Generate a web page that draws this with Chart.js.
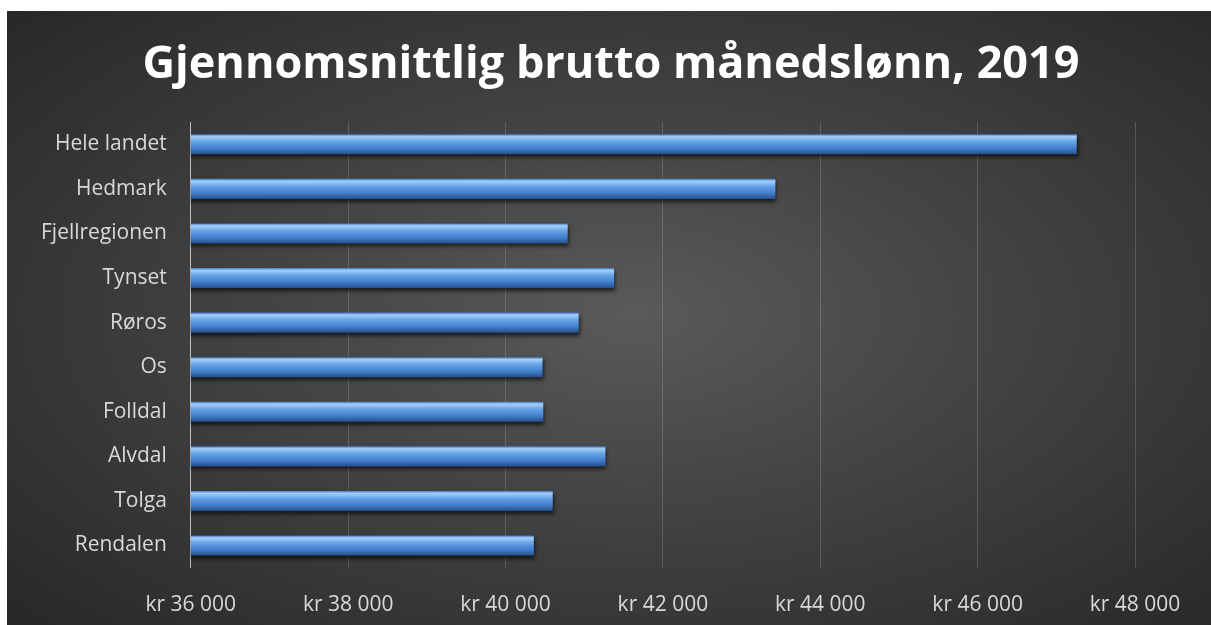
<!DOCTYPE html>
<html lang="no">
<head>
    <meta charset="UTF-8">
    <title>Gjennomsnittlig brutto månedslønn, 2019</title>
    <style>
        body {
            margin: 0;
            background: #ffffff;
            overflow: hidden;
        }
        .panel {
            position: absolute;
            left: 7px;
            top: 11px;
            width: 1204px;
            height: 632px;
            background: radial-gradient(ellipse at 52% 48%, #5a5a5a 0%, #444444 40%, #262626 100%);
        }
    </style>
    <script src="https://cdn.jsdelivr.net/npm/chart.js"></script>
</head>
<body>
    <div class="panel">
        <canvas id="lonn"></canvas>
    </div>

    <script>
        // Data lest av figuren
        const kommuner = ['Hele landet', 'Hedmark', 'Fjellregionen', 'Tynset', 'Røros', 'Os', 'Folldal', 'Alvdal', 'Tolga', 'Rendalen'];
        const lonn = [47260, 43430, 40790, 41380, 40930, 40470, 40480, 41270, 40600, 40360];
        const aksMin = 36000;
        const aksMax = 48000;
        const aksSteg = 2000;

        function kroner(v) {
            return 'kr ' + String(v).replace(/\B(?=(\d{3})+(?!\d))/g, ' ');
        }

        // gradient per stolpe for 3D-effekten
        function stolpeFarge(c) {
            const chart = c.chart;
            const y = chart.scales.y;
            if (!y || y.top === undefined) return '#4a8fdc';
            const senter = y.getPixelForValue(c.dataIndex);
            const tykk = (y.bottom - y.top) / kommuner.length * 0.9 * 0.5;
            const g = chart.ctx.createLinearGradient(0, senter - tykk / 2, 0, senter + tykk / 2);
            g.addColorStop(0, '#3e78c4');
            g.addColorStop(0.12, '#a6d0fa');
            g.addColorStop(0.35, '#68a6e8');
            g.addColorStop(0.7, '#437fcd');
            g.addColorStop(1, '#264f8c');
            return g;
        }

        const skygge = {
            id: 'skygge',
            beforeDatasetsDraw(chart) {
                const ctx = chart.ctx;
                ctx.save();
                ctx.shadowColor = 'rgba(0,0,0,0.65)';
                ctx.shadowBlur = 4;
                ctx.shadowOffsetX = 1;
                ctx.shadowOffsetY = 3;
            },
            afterDatasetsDraw(chart) {
                chart.ctx.restore();
            }
        };

        new Chart(document.getElementById('lonn'), {
            type: 'bar',
            data: {
                labels: kommuner,
                datasets: [{
                    data: lonn,
                    backgroundColor: stolpeFarge,
                    borderWidth: 0,
                    barPercentage: 0.5,
                    categoryPercentage: 0.9
                }]
            },
            options: {
                indexAxis: 'y',
                responsive: true,
                maintainAspectRatio: false,
                animation: false,
                layout: {
                    padding: { left: 10, right: 6, top: 0, bottom: 0 }
                },
                plugins: {
                    legend: { display: false },
                    tooltip: { enabled: false },
                    title: {
                        display: true,
                        text: 'Gjennomsnittlig brutto månedslønn, 2019',
                        color: '#ffffff',
                        font: { family: 'Open Sans', size: 45, weight: 'bold' },
                        padding: { top: 27, bottom: 30 }
                    }
                },
                scales: {
                    x: {
                        min: aksMin,
                        max: aksMax,
                        // litt mer luft til høyre, som i originalen
                        afterFit: s => { s.paddingRight = 76; },
                        ticks: {
                            stepSize: aksSteg,
                            color: '#d9d9d9',
                            font: { family: 'Open Sans', size: 21 },
                            padding: 25,
                            callback: v => kroner(v)
                        },
                        grid: {
                            color: 'rgba(255,255,255,0.16)',
                            drawTicks: false
                        },
                        border: { display: false }
                    },
                    y: {
                        ticks: {
                            color: '#d9d9d9',
                            font: { family: 'Open Sans', size: 21 },
                            padding: 24
                        },
                        grid: { display: false, drawTicks: false },
                        border: { display: true, color: '#bfbfbf', width: 1 }
                    }
                }
            },
            plugins: [skygge]
        });
    </script>
</body>
</html>
